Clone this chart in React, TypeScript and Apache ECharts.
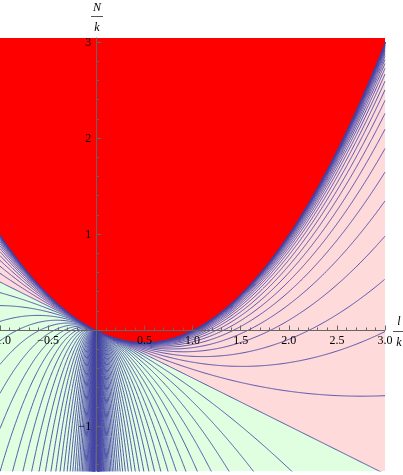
import React, { useEffect, useRef } from "react";
import * as echarts from "echarts";

// Plot window
const X_MIN = -1;
const X_MAX = 3;
const Y_MIN = -1.469;
const Y_MAX = 3.042;

// Tick values
const yMajorTicks = [-1, 1, 2, 3];
const yMinorTicks = [-1.4, -1.2, -0.8, -0.6, -0.4, -0.2, 0.2, 0.4, 0.6, 0.8, 1.2, 1.4, 1.6, 1.8, 2.2, 2.4, 2.6, 2.8];

// Contour levels: log of the root-discriminant ratio
const contourLevels = [
  -5.0, -4.9, -4.8, -4.7, -4.6, -4.5, -4.4, -4.3, -4.2, -4.1,
  -4.0, -3.9, -3.8, -3.7, -3.6, -3.5, -3.4, -3.3, -3.2, -3.1,
  -3.0, -2.9, -2.8, -2.7, -2.6, -2.5, -2.4, -2.3, -2.2, -2.1,
  -2.0, -1.9, -1.8, -1.7, -1.6, -1.5, -1.4, -1.3, -1.2, -1.1,
  -1.0, -0.9, -0.8, -0.7, -0.6, -0.5, -0.4, -0.3, -0.2, -0.1,
  0,
  0.1, 0.2, 0.3, 0.4, 0.5, 0.6, 0.7, 0.8, 0.9, 1.0,
  1.1, 1.2, 1.3, 1.4, 1.5, 1.6, 1.7, 1.8, 1.9, 2.0,
  2.1, 2.2, 2.3, 2.4, 2.5, 2.6, 2.7, 2.8, 2.9, 3.0,
  3.1, 3.2, 3.3, 3.4, 3.5, 3.6, 3.7, 3.8, 3.9, 4.0,
  4.1, 4.2, 4.3, 4.4, 4.5, 4.6, 4.7, 4.8, 4.9, 5.0,
];
const boundaryLevel = -Infinity; // edge of the red (no real root) region
const signLevel = 0; // pink / green boundary

const RED = "#FF0000";
const PINK = "#FFDADA";
const GREEN = "#E0FFE0";
const LINE = "#4646A6";
const AXIS = "#666666";

// sample abscissae (denser close to x = 0)
const xs: number[] = [];
for (let i = 0; i <= 800; i++) xs.push(X_MIN + ((X_MAX - X_MIN) * i) / 800);
for (let k = 0; k < 180; k++) {
  const t = 0.0002 * Math.pow(1.05, k);
  if (t < 1) xs.push(t, -t);
}
xs.sort((p, q) => p - q);

function contour(level: number): number[][] {
  const u = Math.exp(level);
  const a = 1 - u * u;
  return xs
    .map((x) => [x, (a * x * x - x) / 2])
    .filter((p) => p[1] >= -2.5 && p[1] <= 4.5);
}

const fmt = (v: number, dec: number) =>
  v === 0 ? "" : (v < 0 ? "\u2212" : "") + Math.abs(v).toFixed(dec);

const FONT = "'Liberation Serif', 'Times New Roman', serif";

const GRID_LEFT = 0;
const GRID_TOP = 38;
const GRID_W = 385;
const GRID_H = 433;

export default function App() {
  const ref = useRef<HTMLDivElement>(null);
  useEffect(() => {
    if (!ref.current) return;
    const chart = echarts.init(ref.current, undefined, { renderer: "svg" });
    const series: any[] = [];
    series.push({
      type: "line",
      data: contour(signLevel),
      symbol: "none",
      silent: true,
      lineStyle: { width: 0 },
      areaStyle: { color: PINK, opacity: 1, origin: "end" },
      z: 1,
    });
    contourLevels.forEach((g) => {
      series.push({
        type: "line",
        data: contour(g),
        symbol: "none",
        silent: true,
        clip: true,
        lineStyle: { color: LINE, width: 0.9 },
        z: 2,
      });
    });
    series.push({
      type: "line",
      data: contour(boundaryLevel),
      symbol: "none",
      silent: true,
      lineStyle: { width: 0 },
      areaStyle: { color: RED, opacity: 1, origin: "end" },
      z: 3,
    });
    // pixel offsets that put the axes through the origin
    const x0px = (GRID_W * (0 - X_MIN)) / (X_MAX - X_MIN);
    const y0px = (GRID_H * (0 - Y_MIN)) / (Y_MAX - Y_MIN);
    const labelStyle = { color: "#000", fontFamily: FONT, fontSize: 12 };
    chart.setOption({
      animation: false,
      grid: {
        left: GRID_LEFT,
        top: GRID_TOP,
        width: GRID_W,
        height: GRID_H,
        show: true,
        backgroundColor: GREEN,
        borderWidth: 0,
        containLabel: false,
        outerBoundsMode: "none",
      },
      xAxis: {
        type: "value",
        min: X_MIN,
        max: X_MAX,
        interval: 0.5,
        position: "bottom",
        offset: -y0px,
        z: 10,
        axisLine: { onZero: false, lineStyle: { color: AXIS, width: 1 } },
        axisTick: { inside: true, length: 4.5, lineStyle: { color: AXIS } },
        minorTick: { show: true, splitNumber: 5, length: 2.5, lineStyle: { color: AXIS } },
        axisLabel: { ...labelStyle, margin: 4, showMinLabel: true, showMaxLabel: true, formatter: (v: number) => fmt(v, 1) },
        splitLine: { show: false },
        minorSplitLine: { show: false },
      },
      yAxis: [
        {
          type: "value",
          min: Y_MIN,
          max: Y_MAX,
          position: "left",
          offset: -x0px,
          z: 10,
          axisLine: { onZero: false, lineStyle: { color: AXIS, width: 1 } },
          axisTick: { inside: true, length: 5, customValues: yMajorTicks, lineStyle: { color: AXIS } },
          axisLabel: { ...labelStyle, margin: 5, customValues: yMajorTicks, formatter: (v: number) => fmt(v, 0) },
          splitLine: { show: false },
        },
        {
          type: "value",
          min: Y_MIN,
          max: Y_MAX,
          position: "left",
          offset: -x0px,
          z: 10,
          axisLine: { show: false, onZero: false },
          axisTick: { inside: true, length: 2.5, customValues: yMinorTicks, lineStyle: { color: AXIS } },
          axisLabel: { show: false },
          splitLine: { show: false },
        },
      ],
      series,
      graphic: [
        { type: "text", x: 97, y: 7, style: { text: "N", font: "italic 12px " + FONT, fill: "#000", align: "center", verticalAlign: "middle" } },
        { type: "line", shape: { x1: 91, y1: 16.5, x2: 103, y2: 16.5 }, style: { stroke: "#555", lineWidth: 1 } },
        { type: "text", x: 97, y: 27, style: { text: "k", font: "italic 12px " + FONT, fill: "#000", align: "center", verticalAlign: "middle" } },
        { type: "text", x: 399, y: 321, style: { text: "l", font: "italic 12px " + FONT, fill: "#000", align: "center", verticalAlign: "middle" } },
        { type: "line", shape: { x1: 393, y1: 331.5, x2: 405, y2: 331.5 }, style: { stroke: "#555", lineWidth: 1 } },
        { type: "text", x: 399, y: 342, style: { text: "k", font: "italic 12px " + FONT, fill: "#000", align: "center", verticalAlign: "middle" } },
      ],
    });
    return () => chart.dispose();
  }, []);
  return (
    <div
      ref={ref}
      style={{ position: "fixed", left: 0, top: 0, width: 403, height: 475 }}
    />
  );
}
